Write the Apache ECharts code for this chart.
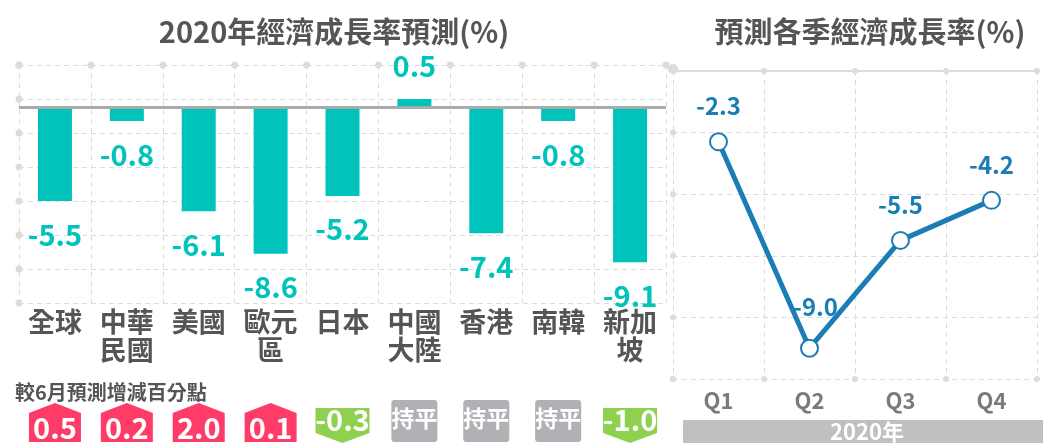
<!DOCTYPE html>
<html>
<head>
<meta charset="utf-8">
<script src="https://cdn.jsdelivr.net/npm/echarts@6/dist/echarts.min.js"></script>
<style>
html, body { margin: 0; padding: 0; background: #fff; }
#main { width: 1043px; height: 445px; }
</style>
</head>
<body>
<div id="main"></div>
<script>
// 各國2020年經濟成長率預測
const countries = ['全球', '中華\n民國', '美國', '歐元\n區', '日本', '中國\n大陸', '香港', '南韓', '新加\n坡']
const growth2020 = [-5.5, -0.8, -6.1, -8.6, -5.2, 0.5, -7.4, -0.8, -9.1]
// 較6月預測增減百分點 (0 = 持平)
const changeFromJune = [0.5, 0.2, 2.0, 0.1, -0.3, 0, 0, 0, -1.0]
// 各季預測
const quarters = ['Q1', 'Q2', 'Q3', 'Q4']
const quarterGrowth = [-2.3, -9.0, -5.5, -4.2]

const FONT = '"Noto Sans CJK TC", "Noto Sans", sans-serif'
const teal = '#00c4bb'
const blue = '#1a7db5'
const gridGray = '#dcdcdc'

const chart = echarts.init(document.getElementById('main'))

// 網格端點的小圓點
const dots = (size, big) => ({
    show: true,
    margin: -size / 2,
    showMinLabel: true,
    showMaxLabel: true,
    formatter: (v, i) => (big && i === 0 ? '{b|}' : '{d|}'),
    rich: {
        d: { width: size, height: size, borderRadius: size / 2, backgroundColor: gridGray },
        b: { width: 10, height: 10, borderRadius: 5, backgroundColor: gridGray }
    }
})
const dashed = { show: true, lineStyle: { color: gridGray, type: [5, 4], width: 1 } }
const hidden = { show: false }
const lowest = Math.min(...quarterGrowth)

const option = {
    animation: false,
    textStyle: { fontFamily: FONT },
    title: [
        {
            text: '2020年經濟成長率預測(%)',
            left: 329, top: 12, textAlign: 'center',
            textStyle: { fontSize: 29, fontWeight: 'bold', color: '#555', fontFamily: FONT }
        },
        {
            text: '預測各季經濟成長率(%)',
            left: 865, top: 12, textAlign: 'center',
            textStyle: { fontSize: 29, fontWeight: 'bold', color: '#555', fontFamily: FONT }
        },
        {
            text: '較6月預測增減百分點',
            left: 10, top: 377,
            textStyle: { fontSize: 20, fontWeight: 'bold', color: '#555', fontFamily: FONT }
        }
    ],
    grid: [
        { left: 19, top: 65, width: 647, height: 238 },
        { left: 673, top: 71, width: 373, height: 308 },
        { left: 19, top: 398, width: 647, height: 45 }
    ],
    xAxis: [
        {
            type: 'category', gridIndex: 0, position: 'bottom', data: countries,
            axisLine: hidden, axisTick: hidden, splitLine: dashed,
            axisLabel: {
                interval: 0, margin: 5, color: '#555', fontSize: 27, lineHeight: 28,
                fontWeight: 'bold', fontFamily: FONT
            }
        },
        {
            type: 'value', gridIndex: 0, position: 'top', min: 0, max: 9, interval: 1,
            axisLine: hidden, axisTick: hidden, splitLine: hidden, axisLabel: dots(7)
        },
        {
            type: 'category', gridIndex: 1, position: 'bottom', data: quarters,
            axisLine: hidden, axisTick: hidden, splitLine: dashed,
            axisLabel: { margin: 11, color: '#7a7a7a', fontSize: 22, fontWeight: 'bold', fontFamily: FONT }
        },
        {
            type: 'value', gridIndex: 1, position: 'top', min: 0, max: 4, interval: 1, offset: 0,
            axisLine: { show: true, lineStyle: { color: gridGray, width: 2 } },
            axisTick: hidden, splitLine: hidden, axisLabel: dots(6, true)
        },
        {
            type: 'value', gridIndex: 1, position: 'bottom', min: 0, max: 4, interval: 1, offset: 0,
            axisLine: hidden, axisTick: hidden, splitLine: hidden, axisLabel: dots(6)
        },
        {
            type: 'category', gridIndex: 2, data: countries, show: false
        }
    ],
    yAxis: [
        {
            type: 'value', gridIndex: 0, min: -11.5, max: 2.5,
            axisLine: hidden, axisTick: hidden, splitLine: hidden, axisLabel: hidden
        },
        {
            type: 'value', gridIndex: 0, position: 'left', min: 0, max: 7, interval: 1, offset: 0,
            axisLine: hidden, axisTick: hidden, splitLine: dashed, axisLabel: dots(7)
        },
        {
            type: 'value', gridIndex: 1, min: -10, max: 0, interval: 2,
            axisLine: hidden, axisTick: hidden, splitLine: dashed, axisLabel: dots(6)
        },
        {
            type: 'value', gridIndex: 2, min: 0, max: 1, show: false
        }
    ],
    series: [
        {
            type: 'bar',
            xAxisIndex: 0, yAxisIndex: 0,
            barWidth: 34,
            itemStyle: { color: teal },
            label: {
                show: true, color: teal, fontSize: 29, fontWeight: 'bold', fontFamily: FONT, distance: 19,
                formatter: (p) => p.value.toFixed(1)
            },
            data: growth2020.map((v) => ({ value: v, label: { position: v >= 0 ? 'top' : 'bottom' } })),
            markLine: {
                silent: true, symbol: 'none', label: { show: false },
                lineStyle: { color: '#aaa', type: 'solid', width: 3 },
                data: [{ yAxis: 0 }]
            }
        },
        {
            type: 'line',
            xAxisIndex: 2, yAxisIndex: 2,
            data: quarterGrowth.map((v) => (v === lowest ? { value: v, label: { offset: [6, -6] } } : v)),
            symbol: 'emptyCircle', symbolSize: 17,
            lineStyle: { color: blue, width: 5 },
            itemStyle: { color: blue, borderWidth: 4 },
            label: {
                show: true, position: 'top', distance: 14, color: blue,
                fontSize: 24, fontWeight: 'bold', fontFamily: FONT,
                formatter: (p) => p.value.toFixed(1)
            }
        },
        {
            type: 'custom',
            xAxisIndex: 5, yAxisIndex: 3,
            data: changeFromJune.map((v, i) => [i, v]),
            encode: { x: 0, y: 1 },
            renderItem: (params, api) => {
                const cx = api.coord([api.value(0), 0])[0]
                const v = api.value(1)
                const top = params.coordSys.y
                let shape, text, ty, size
                if (v > 0) {
                    shape = { type: 'polygon', shape: { points: [[cx - 26, top + 15], [cx, top + 5], [cx + 26, top + 15], [cx + 26, top + 44], [cx - 26, top + 44]] }, style: { fill: '#ff3b68' } }
                    text = v.toFixed(1); ty = top + 30; size = 29
                } else if (v < 0) {
                    shape = { type: 'polygon', shape: { points: [[cx - 27, top + 10], [cx + 27, top + 10], [cx + 27, top + 35], [cx, top + 45], [cx - 27, top + 35]] }, style: { fill: '#8fd14f' } }
                    text = v.toFixed(1); ty = top + 22; size = 29
                } else {
                    shape = { type: 'rect', shape: { x: cx - 23, y: top + 2, width: 46, height: 42, r: 3 }, style: { fill: '#b1b1b5' } }
                    text = '持平'; ty = top + 20; size = 23
                }
                return {
                    type: 'group',
                    children: [
                        shape,
                        {
                            type: 'text',
                            style: {
                                text, x: cx, y: ty, fill: '#fff', align: 'center', verticalAlign: 'middle',
                                fontSize: size, fontWeight: 'bold', fontFamily: FONT
                            }
                        }
                    ]
                }
            }
        }
    ],
    graphic: [
        {
            type: 'group', left: 683, top: 420,
            children: [
                { type: 'rect', shape: { x: 0, y: 0, width: 360, height: 23 }, style: { fill: '#c0c0c0' } },
                {
                    type: 'text', x: 184, y: 12,
                    style: { text: '2020年', fill: '#fff', align: 'center', verticalAlign: 'middle', fontSize: 22, fontWeight: 'bold', fontFamily: FONT }
                }
            ]
        }
    ]
}

chart.setOption(option)
</script>
</body>
</html>
